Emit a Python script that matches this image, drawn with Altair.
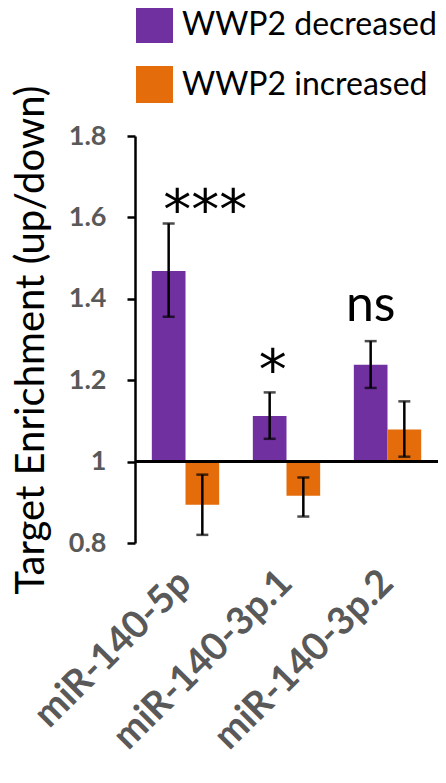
import altair as alt
import pandas as pd

categories = ["miR-140-5p", "miR-140-3p.1", "miR-140-3p.2"]
series = ["WWP2 decreased", "WWP2 increased"]
colors = ["#7030A0", "#E46C0A"]

decreased = [1.468, 1.112, 1.238]
decreased_lo = [1.356, 1.056, 1.181]
decreased_hi = [1.585, 1.170, 1.296]
increased = [0.894, 0.916, 1.079]
increased_lo = [0.820, 0.865, 1.012]
increased_hi = [0.968, 0.961, 1.148]

star_labels = ["***", "*"]
star_categories = ["miR-140-5p", "miR-140-3p.1"]
star_series = ["WWP2 increased", "WWP2 decreased"]
star_y = [1.572, 1.179]
ns_labels = ["ns"]
ns_categories = ["miR-140-3p.2"]
ns_series = ["WWP2 decreased"]
ns_y = [1.346]

y_ticks = [0.8, 1.0, 1.2, 1.4, 1.6, 1.8]
y_title = "Target Enrichment (up/down)"

rows = []
for i, c in enumerate(categories):
    rows.append(dict(category=c, series=series[0], value=decreased[i], lo=decreased_lo[i], hi=decreased_hi[i]))
    rows.append(dict(category=c, series=series[1], value=increased[i], lo=increased_lo[i], hi=increased_hi[i]))
df = pd.DataFrame(rows)
stars = pd.DataFrame(dict(category=star_categories, series=star_series, label=star_labels, y=star_y))
ns = pd.DataFrame(dict(category=ns_categories, series=ns_series, label=ns_labels, y=ns_y))

W, H = 303, 407

xenc = alt.X("category:N", sort=categories, scale=alt.Scale(paddingInner=0, paddingOuter=0), title=None)
xoff = alt.XOffset("series:N", sort=series, scale=alt.Scale(paddingInner=0, paddingOuter=0.5))
yscale = alt.Scale(domain=[0.8, 1.8], nice=False, zero=False)

bars = alt.Chart(df).mark_bar().encode(
    x=xenc,
    xOffset=xoff,
    y=alt.Y("value:Q", scale=yscale, title=y_title,
            axis=alt.Axis(values=y_ticks, format="~g")),
    y2=alt.datum(1),
    color=alt.Color("series:N", sort=series, scale=alt.Scale(domain=series, range=colors),
                    legend=alt.Legend(orient="none", legendX=1, legendY=-130, title=None,
                                      symbolType="square", symbolSize=1369, symbolStrokeWidth=0,
                                      labelFontSize=32, labelFont="Lato", labelColor="black",
                                      labelLimit=0, rowPadding=23, labelOffset=9, padding=0)),
)

baseline = alt.Chart(df).mark_rule(color="black", strokeWidth=2.5).encode(
    y=alt.datum(1), x=alt.value(0), x2=alt.value(W)
)

err = alt.Chart(df).mark_rule(color="black", strokeWidth=2.5).encode(
    x=xenc, xOffset=xoff,
    y=alt.Y("lo:Q", scale=yscale, title=y_title), y2="hi:Q",
)

caps = alt.Chart(df).transform_fold(["lo", "hi"], as_=["cap_key", "cap_val"]).mark_tick(
    color="black", size=12, thickness=2.5, orient="horizontal"
).encode(
    x=xenc, xOffset=xoff,
    y=alt.Y("cap_val:Q", scale=yscale, title=y_title),
)

star_text = alt.Chart(stars).mark_text(font="DejaVu Sans", fontSize=56, baseline="alphabetic",
                                      color="black", dx=3).encode(
    x=xenc, xOffset=xoff,
    y=alt.Y("y:Q", scale=yscale, title=y_title),
    text="label:N",
)

ns_text = alt.Chart(ns).mark_text(font="Lato", fontSize=50, baseline="alphabetic", color="black").encode(
    x=xenc, xOffset=xoff,
    y=alt.Y("y:Q", scale=yscale, title=y_title),
    text="label:N",
)

chart = alt.layer(bars, baseline, err, caps, star_text, ns_text).properties(
    width=W, height=H,
    autosize=alt.AutoSizeParams(type="none"),
    padding={"left": 127, "top": 128, "right": 0, "bottom": 230},
).configure_view(stroke=None).configure_axisY(
    grid=False, domainColor="black", domainWidth=2.5, tickColor="black", tickWidth=2.5, tickSize=8,
    labelFont="Lato", labelFontWeight="bold", labelFontSize=27, labelColor="#595959", labelPadding=21,
    titleFont="Lato", titleFontWeight="normal", titleFontSize=40, titleColor="black",
    titleAngle=-90, titleAlign="center", titleBaseline="alphabetic", titleX=-92, titleY=H / 2,
).configure_axisX(
    domain=False, ticks=False, grid=False, labelAngle=-45, labelAlign="right", labelBaseline="middle",
    labelFont="Lato", labelFontWeight="bold", labelFontSize=38, labelColor="#595959", labelPadding=34,
    labelLimit=0,
)

chart.save("out.html", embed_options={"renderer": "svg", "actions": False})
